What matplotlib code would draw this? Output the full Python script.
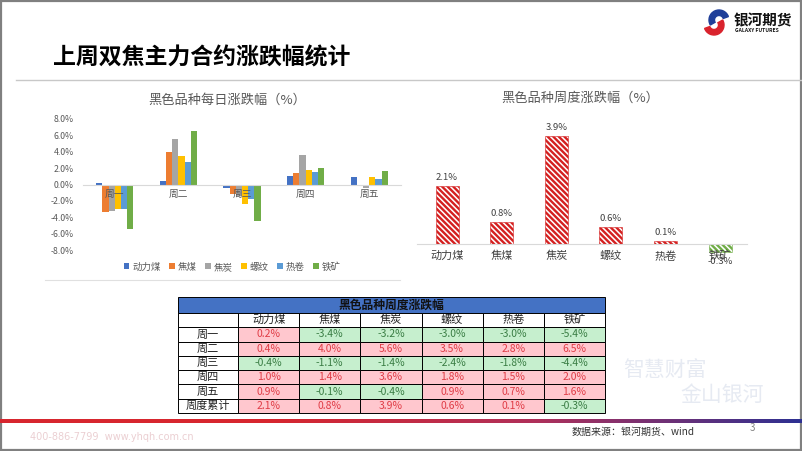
import numpy as np
import matplotlib.pyplot as plt
from matplotlib.patches import Rectangle, Wedge
from matplotlib.colors import LinearSegmentedColormap

plt.rcParams['font.family'] = ['Noto Sans CJK SC', 'DejaVu Sans']
plt.rcParams['hatch.linewidth'] = 1.7

# ---- данные ----
days = ['周一', '周二', '周三', '周四', '周五']
products = ['动力煤', '焦煤', '焦炭', '螺纹', '热卷', '铁矿']
dlm = [0.2, 0.4, -0.4, 1.0, 0.9]
jm = [-3.4, 4.0, -1.1, 1.4, -0.1]
jt = [-3.2, 5.6, -1.4, 3.6, -0.4]
lw = [-3.0, 3.5, -2.4, 1.8, 0.9]
rj = [-3.0, 2.8, -1.8, 1.5, 0.7]
tk = [-5.4, 6.5, -4.4, 2.0, 1.6]
daily = [dlm, jm, jt, lw, rj, tk]
weekly = [2.1, 0.8, 3.9, 0.6, 0.1, -0.3]
yticks = [-8, -6, -4, -2, 0, 2, 4, 6, 8]

colors = ['#4472C4', '#ED7D31', '#A5A5A5', '#FFC000', '#5B9BD5', '#70AD47']

W, H = 802, 451
fig = plt.figure(figsize=(W / 100, H / 100), dpi=100)
fig.patch.set_facecolor('white')


def px_axes(x0, y0, x1, y1, **kw):
    return fig.add_axes([x0 / W, 1 - y1 / H, (x1 - x0) / W, (y1 - y0) / H], **kw)


# подложка в пикселях
bg = px_axes(0, 0, W, H)
bg.set_axis_off()

# рамка слайда
bg.add_patch(Rectangle((0.8, 0.8), W - 1.6, H - 1.6, fill=False, edgecolor='#808080', lw=1.6))

# заголовок
bg.text(53, 58, '上周双焦主力合约涨跌幅统计', fontsize=16.5, fontweight='bold',
        color='black', ha='left', va='center')
bg.plot([16, W], [80, 80], color='#C8C8C8', lw=1)

# логотип
bg.add_patch(Wedge((719, 20), 10, 150, 340, width=5.5, color='#1F3F99'))
bg.add_patch(Wedge((714, 25), 10, -30, 160, width=5.5, color='#D9232D'))
bg.text(734, 20, '银河期货', fontsize=10.5, fontweight='bold', color='#111', ha='left', va='center')
bg.text(735, 31, 'GALAXY FUTURES', fontsize=3.6, fontweight='bold', color='#111', ha='left', va='center')

# ---- график 1: по дням ----
ax1 = px_axes(83, 119, 401, 250)
ax1.set_facecolor('none')
x = np.arange(len(days))
bw = 0.097
for i, vals in enumerate(daily):
    ax1.bar(x + (i - 2.5) * bw, vals, bw, color=colors[i], label=products[i])
ax1.set_ylim(-8, 8)
ax1.set_xlim(-0.5, 4.5)
ax1.set_yticks(yticks)
ax1.set_yticklabels([f'{v:.1f}%' for v in yticks])
ax1.set_xticks(x)
ax1.set_xticklabels(days)
for s in ['left', 'right', 'top']:
    ax1.spines[s].set_visible(False)
ax1.spines['bottom'].set_position(('data', 0))
ax1.spines['bottom'].set_color('#D9D9D9')
ax1.tick_params(axis='y', length=0, labelsize=6.3, colors='#595959', pad=6.5)
ax1.tick_params(axis='x', length=0, labelsize=7, colors='#595959', pad=3)
fig.legend(loc='center', bbox_to_anchor=(232 / W, 1 - 267 / H), ncol=6, fontsize=6.8,
           frameon=False, handlelength=0.6, handleheight=0.6, handletextpad=0.3,
           columnspacing=0.9, labelcolor='#595959')
bg.text(227, 100, '黑色品种每日涨跌幅（%）', fontsize=9.5, color='#595959', ha='center', va='center')
bg.plot([45, 400], [280, 280], color='#E0E0E0', lw=0.8)

# ---- график 2: за неделю ----
ax2 = px_axes(417, 119, 747, 258)
ax2.set_facecolor('none')
xw = np.arange(len(products))
bar_cols = ['#D42020' if v >= 0 else '#70AD47' for v in weekly]
bars = ax2.bar(xw, weekly, 0.42, color='white', edgecolor=bar_cols, hatch='\\' * 6, lw=0.4)
ax2.bar_label(bars, labels=[f'{v:.1f}%' for v in weekly], padding=3, fontsize=6.8, color='#404040')
ax2.set_ylim(-0.5, 4.5)
ax2.set_xlim(-0.55, 5.49)
ax2.set_yticks([])
ax2.set_xticks(xw)
ax2.set_xticklabels(products)
for s in ['left', 'right', 'top']:
    ax2.spines[s].set_visible(False)
ax2.spines['bottom'].set_position(('data', 0))
ax2.spines['bottom'].set_color('#D9D9D9')
ax2.tick_params(axis='x', length=0, labelsize=8, colors='#404040', pad=5)
bg.text(580, 98, '黑色品种周度涨跌幅（%）', fontsize=9.5, color='#595959', ha='center', va='center')

# ---- таблица ----
col_edges = [178, 238] + [238 + 61.17 * k for k in range(1, 7)]
row_edges = [297, 313] + [313 + 14.29 * k for k in range(1, 8)]
tab_lw = 0.7
bg.add_patch(Rectangle((col_edges[0], row_edges[0]), col_edges[-1] - col_edges[0],
                       row_edges[1] - row_edges[0], facecolor='#4472C4', edgecolor='black', lw=tab_lw))
bg.text((col_edges[0] + col_edges[-1]) / 2, (row_edges[0] + row_edges[1]) / 2 + 0.5,
        '黑色品种周度涨跌幅', fontsize=8.5, fontweight='bold', color='#111', ha='center', va='center')

row_names = days + ['周度累计']
table_vals = [[daily[j][i] for j in range(6)] for i in range(5)] + [weekly]

# строка заголовков
r0, r1 = row_edges[1], row_edges[2]
bg.add_patch(Rectangle((col_edges[0], r0), col_edges[1] - col_edges[0], r1 - r0,
                       facecolor='white', edgecolor='black', lw=tab_lw))
for j, name in enumerate(products):
    c0, c1 = col_edges[j + 1], col_edges[j + 2]
    bg.add_patch(Rectangle((c0, r0), c1 - c0, r1 - r0, facecolor='white', edgecolor='black', lw=tab_lw))
    bg.text((c0 + c1) / 2, (r0 + r1) / 2, name, fontsize=8, color='#222', ha='center', va='center')

for i, (rn, vals) in enumerate(zip(row_names, table_vals)):
    r0, r1 = row_edges[i + 2], row_edges[i + 3]
    bg.add_patch(Rectangle((col_edges[0], r0), col_edges[1] - col_edges[0], r1 - r0,
                           facecolor='white', edgecolor='black', lw=tab_lw))
    bg.text((col_edges[0] + col_edges[1]) / 2, (r0 + r1) / 2, rn, fontsize=8,
            color='#222', ha='center', va='center')
    for j, v in enumerate(vals):
        c0, c1 = col_edges[j + 1], col_edges[j + 2]
        fc = '#FFC7CE' if v >= 0 else '#C6EFCE'
        tc = '#E03C46' if v >= 0 else '#3A7D44'
        bg.add_patch(Rectangle((c0, r0), c1 - c0, r1 - r0, facecolor=fc, edgecolor='black', lw=tab_lw))
        bg.text((c0 + c1) / 2, (r0 + r1) / 2, f'{v:.1f}%', fontsize=7.5, color=tc,
                ha='center', va='center')

# водяной знак
bg.text(665, 370, '智慧财富', fontsize=15, color='#E6EAF2', ha='center', va='center',
        style='italic', zorder=0)
bg.text(722, 395, '金山银河', fontsize=15, color='#E6EAF2', ha='center', va='center',
        style='italic', zorder=0)

# нижняя полоса
cmap = LinearSegmentedColormap.from_list('rb', ['#D7262E', '#D7262E', '#B0305A', '#2E3192'],
                                         N=256)
grad = np.linspace(0, 1, 400).reshape(1, -1)
bg.imshow(grad, extent=[0, W, 423.5, 420], cmap=cmap, aspect='auto', zorder=1)
bg.text(30, 437, '400-886-7799  www.yhqh.com.cn', fontsize=7, color='#EBCFD2',
        ha='left', va='center', family='DejaVu Sans')
bg.text(572, 432, '数据来源：银河期货、wind', fontsize=7.2, color='#333', style='italic',
        ha='left', va='center')
bg.text(752, 428, '3', fontsize=7, color='#808080', ha='center', va='center')

bg.set_xlim(0, W)
bg.set_ylim(H, 0)

fig.savefig('out.png', dpi=100)
